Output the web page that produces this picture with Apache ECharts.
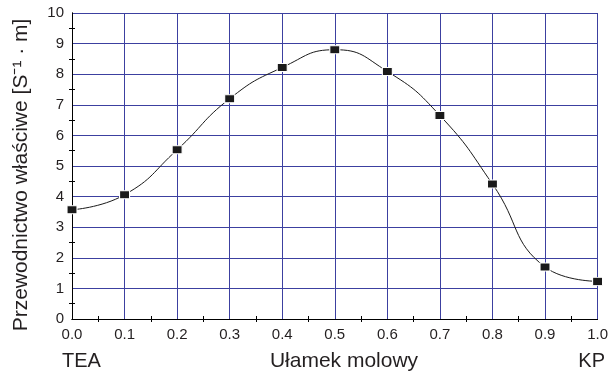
<!DOCTYPE html>
<html>
<head>
<meta charset="utf-8">
<script src="https://cdn.jsdelivr.net/npm/echarts@6/dist/echarts.min.js"></script>
<style>
  html, body { margin: 0; padding: 0; background: #fff; }
  #chart { width: 611px; height: 374px; }
</style>
</head>
<body>
<div id="chart"></div>
<script>
var molFraction = [0.0, 0.1, 0.2, 0.3, 0.4, 0.5, 0.6, 0.7, 0.8, 0.9, 1.0];
var conductivity = [3.57, 4.06, 5.53, 7.20, 8.22, 8.80, 8.09, 6.65, 4.41, 1.70, 1.23];

var font = 'Liberation Sans, Arial, sans-serif';
var gridBlue = '#3c40a0';
var textColor = '#231f20';

var points = molFraction.map(function (x, i) { return [x, conductivity[i]]; });

var chart = echarts.init(document.getElementById('chart'));
var option = {
    animation: false,
    backgroundColor: '#fff',
    grid: { left: 72, right: 12, top: 13, bottom: 55 },
    xAxis: [{
        type: 'value',
        min: 0,
        max: 1,
        interval: 0.1,
        axisLine: { lineStyle: { color: '#000', width: 1 } },
        axisTick: { show: false },
        minorTick: { show: true, splitNumber: 2, length: 3, lineStyle: { color: '#000' } },
        splitLine: { show: true, lineStyle: { color: gridBlue, width: 1 } },
        axisLabel: {
            fontFamily: font, fontSize: 15, color: textColor, margin: 8,
            formatter: function (v) { return v.toFixed(1); }
        }
    }, {
        type: 'value',
        position: 'top',
        min: 0,
        max: 1,
        interval: 0.1,
        axisLine: { lineStyle: { color: '#000', width: 1 } },
        axisTick: { show: false },
        minorTick: { show: true, splitNumber: 2, length: 3, lineStyle: { color: '#000' } },
        axisLabel: { show: false },
        splitLine: { show: false }
    }],
    yAxis: [{
        type: 'value',
        min: 0,
        max: 10,
        interval: 1,
        axisLine: { show: true, lineStyle: { color: '#000', width: 1 } },
        axisTick: { show: false },
        minorTick: { show: true, splitNumber: 2, length: 3, lineStyle: { color: '#000' } },
        splitLine: { show: true, lineStyle: { color: gridBlue, width: 1 } },
        axisLabel: { fontFamily: font, fontSize: 15, color: textColor, margin: 8 }
    }, {
        type: 'value',
        position: 'right',
        min: 0,
        max: 10,
        interval: 1,
        axisLine: { show: true, lineStyle: { color: '#000', width: 1 } },
        axisTick: { show: false },
        minorTick: { show: true, splitNumber: 2, length: 3, lineStyle: { color: '#000' } },
        axisLabel: { show: false },
        splitLine: { show: false }
    }],
    graphic: [{
        type: 'text',
        x: 21,
        y: 175,
        rotation: Math.PI / 2,
        style: {
            text: 'Przewodnictwo właściwe [S⁻¹ · m]',
            font: '21px ' + font,
            fill: textColor,
            textAlign: 'center',
            textVerticalAlign: 'middle'
        }
    }, {
        type: 'text',
        x: 344,
        y: 361,
        style: { text: 'Ułamek molowy', font: '21px ' + font, fill: textColor, textAlign: 'center', textVerticalAlign: 'middle' }
    }, {
        type: 'text',
        x: 62,
        y: 361,
        style: { text: 'TEA', font: '20px ' + font, fill: textColor, textAlign: 'left', textVerticalAlign: 'middle' }
    }, {
        type: 'text',
        x: 605,
        y: 361,
        style: { text: 'KP', font: '20px ' + font, fill: textColor, textAlign: 'right', textVerticalAlign: 'middle' }
    }],
    series: [{
        type: 'line',
        xAxisIndex: 0,
        yAxisIndex: 0,
        data: points,
        smooth: 0.5,
        lineStyle: { color: '#1a1a1a', width: 1 },
        symbol: 'rect',
        symbolSize: [10, 8],
        itemStyle: { color: '#1a1a1a', borderColor: '#fff', borderWidth: 1 },
        z: 5
    }]
};
chart.setOption(option);
</script>
</body>
</html>
